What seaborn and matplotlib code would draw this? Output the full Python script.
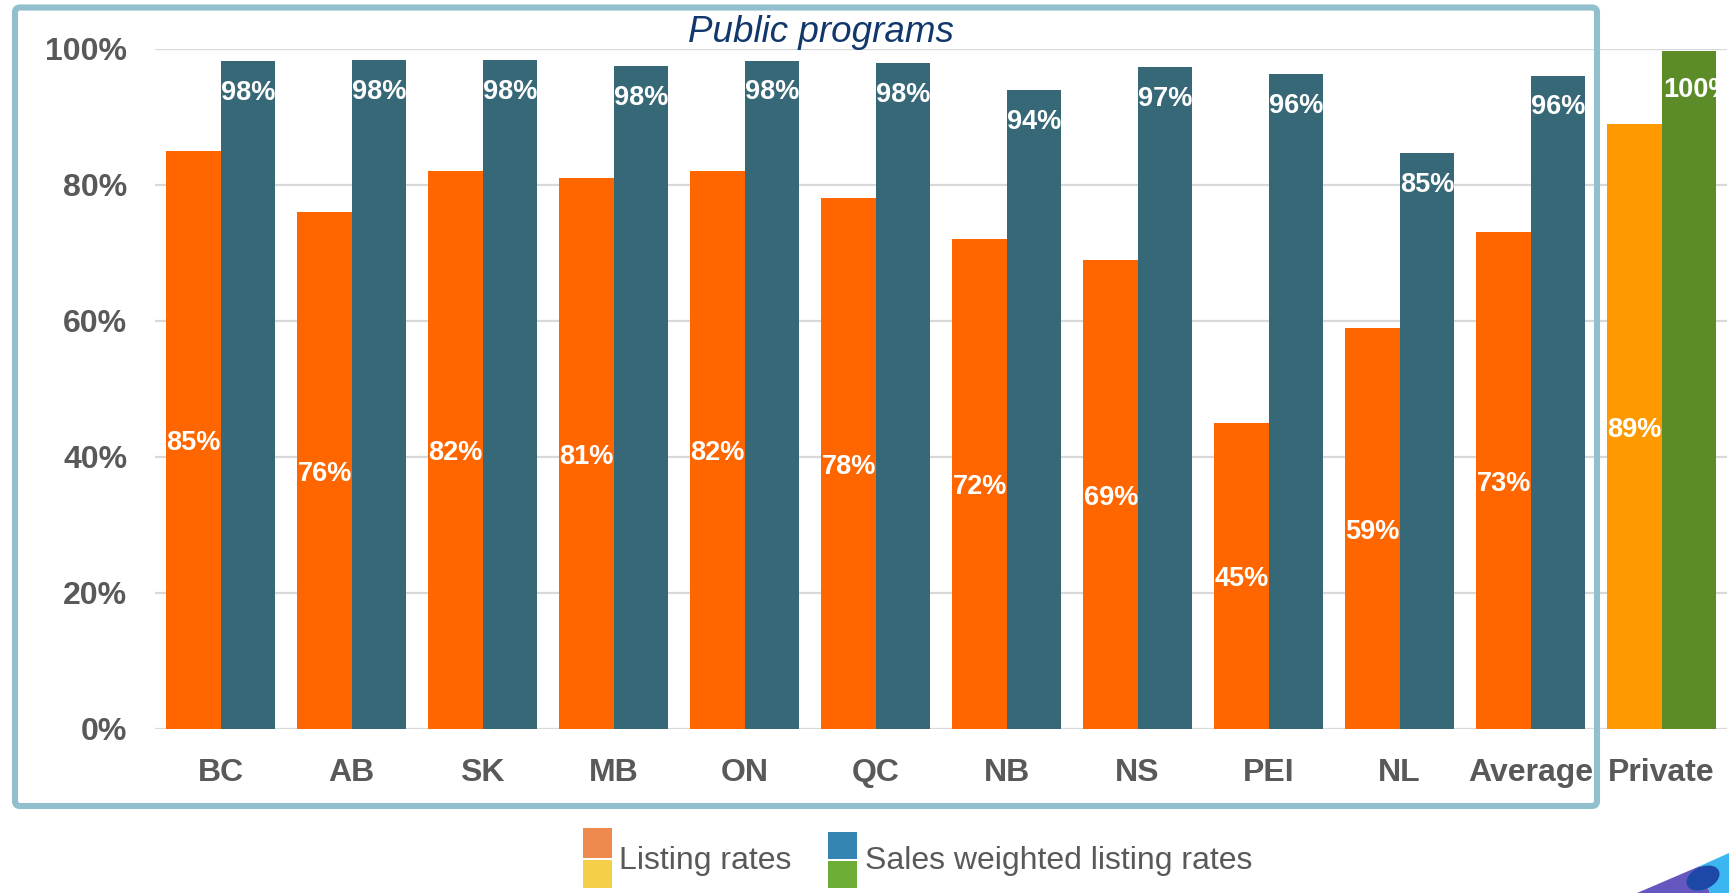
import numpy as np
import pandas as pd
import matplotlib
matplotlib.use("Agg")
import matplotlib.pyplot as plt
import seaborn as sns
from matplotlib.patches import FancyBboxPatch, Rectangle, Polygon, Ellipse

# ---------------- data ----------------
categories = ["BC", "AB", "SK", "MB", "ON", "QC", "NB", "NS", "PEI", "NL", "Average", "Private"]
listing_rates = [85, 76, 82, 81, 82, 78, 72, 69, 45, 59, 73, 89]
listing_labels = ["85%", "76%", "82%", "81%", "82%", "78%", "72%", "69%", "45%", "59%", "73%", "89%"]
weighted_rates = [98.2, 98.4, 98.4, 97.5, 98.3, 97.9, 94.0, 97.3, 96.3, 84.7, 96.1, 99.7]
weighted_labels = ["98%", "98%", "98%", "98%", "98%", "98%", "94%", "97%", "96%", "85%", "96%", "100%"]
series_names = ["Listing rates", "Sales weighted listing rates"]
y_ticks = [0, 20, 40, 60, 80, 100]
y_tick_labels = ["0%", "20%", "40%", "60%", "80%", "100%"]
title_text = "Public programs"

# ---------------- style ----------------
sns.set_theme(style="white")
plt.rcParams["font.family"] = ["Liberation Sans", "DejaVu Sans"]

W, H = 1729, 893
fig = plt.figure(figsize=(W / 100, H / 100), dpi=100)
ax = fig.add_axes([155 / W, 1 - 728.5 / H, 1572 / W, 679.5 / H])

df = pd.DataFrame({
    "Category": categories * 2,
    "Rate": listing_rates + weighted_rates,
    "Series": [series_names[0]] * len(categories) + [series_names[1]] * len(categories),
})

sns.barplot(data=df, x="Category", y="Rate", hue="Series", order=categories,
            hue_order=series_names, palette=["#FF6600", "#376877"], width=0.835,
            gap=0, saturation=1, errorbar=None, legend=False, ax=ax)

c_list, c_wt = ax.containers[0], ax.containers[1]
c_list[-1].set_facecolor("#FF9900")
c_wt[-1].set_facecolor("#5B8C27")

for p in list(c_list) + list(c_wt):
    p.set_edgecolor("none")

ax.set_xlim(-0.5, len(categories) - 0.5)
ax.set_ylim(0, 100)
ax.set_yticks(y_ticks)
ax.set_yticklabels(y_tick_labels)
ax.set_xlabel("")
ax.set_ylabel("")
for s in ax.spines.values():
    s.set_visible(False)
ax.yaxis.grid(True, color="#D9D9D9", linewidth=1.6)
ax.xaxis.grid(False)
ax.set_axisbelow(True)
ax.tick_params(axis="y", length=0, pad=20, labelsize=23, labelcolor="#595959")
ax.tick_params(axis="x", length=0, pad=21, labelsize=23, labelcolor="#595959")
for lbl in ax.get_xticklabels() + ax.get_yticklabels():
    lbl.set_fontweight("bold")

# bar labels
for p, lab in zip(c_list, listing_labels):
    h = p.get_height()
    ax.annotate(lab, (p.get_x(), h / 2), xytext=(0.5, -2.5), textcoords="offset points",
                ha="left", va="center", color="white", fontsize=19.5, fontweight="bold")
last = len(weighted_labels) - 1
for i, (p, lab) in enumerate(zip(c_wt, weighted_labels)):
    h = p.get_height()
    dy = -28 if i == last else -23
    ax.annotate(lab, (p.get_x(), h), xytext=(1.5 if i == last else 0.3, dy),
                textcoords="offset points", ha="left", va="center", color="white",
                fontsize=19.5, fontweight="bold", annotation_clip=False)

# frame around public programs
inch = fig.dpi_scale_trans
box = FancyBboxPatch((15 / 100, (H - 806) / 100), (1597 - 15) / 100, (806 - 7.5) / 100,
                     boxstyle="round,pad=0,rounding_size=0.05", transform=inch,
                     facecolor="none", edgecolor="#92BFCE", linewidth=4.4, zorder=10)
fig.add_artist(box)

fig.text(820.5 / W, 1 - 42 / H, title_text, ha="center", va="baseline",
         fontsize=26.5, style="italic", color="#12386B")

# legend (manual, two-colour swatches)
def px(x, y):
    return x / W, 1 - y / H

def swatch(x0, x1, ytop, ymid, ybot, c_top, c_bot):
    fig.add_artist(Rectangle(px(x0, ymid), (x1 - x0) / W, (ymid - ytop) / H,
                             transform=fig.transFigure, facecolor=c_top, edgecolor="none"))
    fig.add_artist(Rectangle(px(x0, ybot), (x1 - x0) / W, (ybot - ymid - 1.5) / H,
                             transform=fig.transFigure, facecolor=c_bot, edgecolor="none"))

swatch(583, 612, 828, 858, 888, "#EF8A4E", "#F5CF48")
swatch(828, 857, 832, 859, 888, "#3585B3", "#6DAE37")
fig.text(*px(619, 861), series_names[0], ha="left", va="center", fontsize=23, color="#595959")
fig.text(*px(865, 861), series_names[1], ha="left", va="center", fontsize=23, color="#595959")

# decorative swoosh bottom right
fig.add_artist(Polygon([px(1637, 893), px(1700, 866), px(1710, 893)], closed=True,
                       transform=fig.transFigure, facecolor="#6457C0", edgecolor="none"))
fig.add_artist(Polygon([px(1700, 866), px(1729, 853), px(1729, 893), px(1710, 893)], closed=True,
                       transform=fig.transFigure, facecolor="#3CB6F0", edgecolor="none"))
fig.add_artist(Ellipse(px(1703, 878), 30 / W, 26 / H, angle=-20, transform=fig.transFigure,
                       facecolor="#1E48A8", edgecolor="none"))

fig.savefig("out.png", dpi=100)
